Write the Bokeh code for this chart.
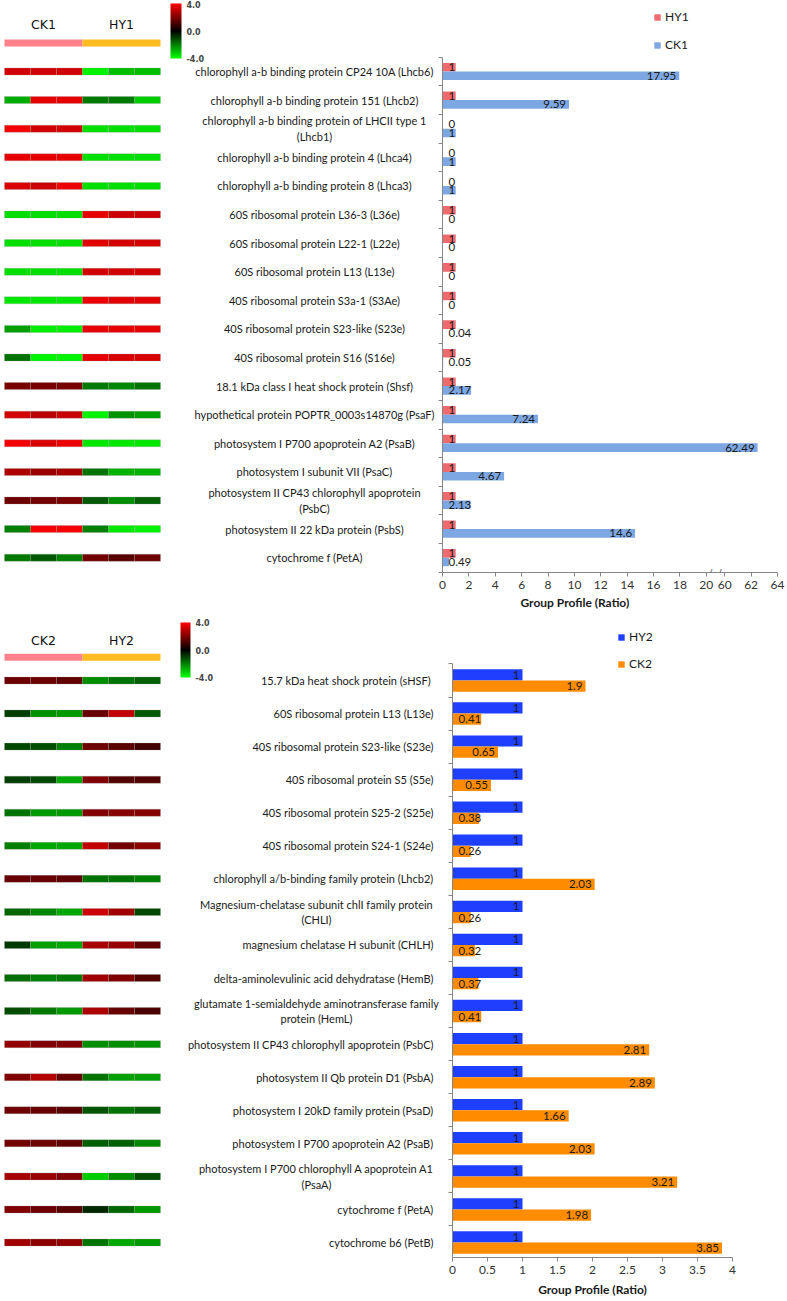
from bokeh.plotting import figure
from bokeh.models import (ColumnDataSource, Range1d, LinearColorMapper, ColorBar, FixedTicker,
                          PrintfTickFormatter, Legend, LegendItem, LinearAxis,
                          CustomJSTickFormatter, Title, Label)
from bokeh.layouts import row, column
from bokeh.core.properties import value
from bokeh.transform import transform, dodge
from bokeh.embed import file_html
from bokeh.resources import INLINE

# ---------------- data : panel 1 ----------------
groups1 = ["CK1", "HY1"]
labels1 = [
    "chlorophyll a-b binding protein CP24 10A (Lhcb6)",
    "chlorophyll a-b binding protein 151 (Lhcb2)",
    "chlorophyll a-b binding protein of LHCII type 1\n(Lhcb1)",
    "chlorophyll a-b binding protein 4 (Lhca4)",
    "chlorophyll a-b binding protein 8 (Lhca3)",
    "60S ribosomal protein L36-3 (L36e)",
    "60S ribosomal protein L22-1 (L22e)",
    "60S ribosomal protein L13 (L13e)",
    "40S ribosomal protein S3a-1 (S3Ae)",
    "40S ribosomal protein S23-like (S23e)",
    "40S ribosomal protein S16 (S16e)",
    "18.1 kDa class I heat shock protein (Shsf)",
    "hypothetical protein POPTR_0003s14870g (PsaF)",
    "photosystem I P700 apoprotein A2 (PsaB)",
    "photosystem I subunit VII (PsaC)",
    "photosystem II CP43 chlorophyll apoprotein\n(PsbC)",
    "photosystem II 22 kDa protein (PsbS)",
    "cytochrome f (PetA)",
]
hy1 = [1, 1, 0, 0, 0, 1, 1, 1, 1, 1, 1, 1, 1, 1, 1, 1, 1, 1]
ck1 = [17.95, 9.59, 1, 1, 1, 0, 0, 0, 0, 0.04, 0.05, 2.17, 7.24, 62.49, 4.67, 2.13, 14.6, 0.49]
heat1 = [
    [3.3, 3.3, 3.3, -3.8, -3.0, -3.0],
    [-2.7, 3.6, 3.6, -1.9, -1.9, -3.2],
    [3.8, 3.3, 3.3, -3.5, -3.5, -3.5],
    [3.6, 3.6, 3.6, -3.5, -3.5, -3.5],
    [3.4, 3.2, 3.7, -3.5, -3.5, -3.5],
    [-3.5, -3.5, -3.5, 3.6, 3.2, 3.2],
    [-3.5, -3.5, -3.5, 3.5, 3.3, 3.3],
    [-3.5, -3.5, -3.5, 3.3, 3.3, 3.3],
    [-3.6, -3.6, -3.6, 3.7, 3.5, 3.5],
    [-2.5, -3.7, -3.7, 3.6, 3.6, 3.6],
    [-1.8, -3.8, -3.8, 3.6, 3.4, 3.4],
    [1.9, 1.9, 1.9, -1.9, -2.1, -1.8],
    [3.3, 2.9, 3.1, -3.8, -2.3, -2.5],
    [3.8, 3.4, 3.7, -3.6, -3.6, -3.6],
    [2.7, 2.4, 2.6, -1.8, -2.8, -2.8],
    [1.7, 1.8, 1.9, -1.4, -2.2, -1.5],
    [-2.0, 3.9, 3.9, -2.0, -3.6, -3.8],
    [-1.9, -1.4, -2.0, 1.8, 1.4, 1.7],
]

# ---------------- data : panel 2 ----------------
groups2 = ["CK2", "HY2"]
labels2 = [
    "15.7 kDa  heat shock protein (sHSF)",
    "60S ribosomal protein L13 (L13e)",
    "40S ribosomal protein S23-like (S23e)",
    "40S ribosomal protein S5 (S5e)",
    "40S ribosomal protein S25-2 (S25e)",
    "40S ribosomal protein S24-1 (S24e)",
    "chlorophyll a/b-binding family protein (Lhcb2)",
    "Magnesium-chelatase subunit chlI family protein\n(CHLI)",
    "magnesium chelatase H subunit (CHLH)",
    "delta-aminolevulinic acid dehydratase (HemB)",
    "glutamate 1-semialdehyde aminotransferase family\nprotein (HemL)",
    "photosystem II CP43 chlorophyll apoprotein (PsbC)",
    "photosystem II Qb protein D1 (PsbA)",
    "photosystem I 20kD family protein (PsaD)",
    "photosystem I P700 apoprotein A2 (PsaB)",
    "photosystem I P700 chlorophyll A apoprotein A1\n(PsaA)",
    "cytochrome f (PetA)",
    "cytochrome b6 (PetB)",
]
hy2 = [1, 1, 1, 1, 1, 1, 1, 1, 1, 1, 1, 1, 1, 1, 1, 1, 1, 1]
ck2 = [1.9, 0.41, 0.65, 0.55, 0.38, 0.26, 2.03, 0.26, 0.32, 0.37, 0.41, 2.81, 2.89, 1.66, 2.03, 3.21, 1.98, 3.85]
heat2 = [
    [1.7, 1.7, 1.5, -2.2, -1.8, -1.5],
    [-1.0, -2.3, -2.4, 1.6, 3.0, -1.4],
    [-1.1, -1.2, -2.0, 1.7, 1.4, 1.0],
    [-1.0, -1.1, -2.6, 2.0, 1.3, 1.3],
    [-1.8, -2.4, -2.4, 2.0, 2.1, 2.1],
    [-2.0, -2.6, -2.6, 3.0, 1.8, 2.2],
    [1.6, 1.6, 1.5, -1.8, -1.8, -2.0],
    [-1.6, -2.1, -2.6, 3.2, 2.5, -1.1],
    [-0.9, -2.5, -2.6, 2.6, 2.4, 1.5],
    [-1.7, -2.0, -1.9, 2.5, 2.0, 1.3],
    [-1.2, -1.9, -2.4, 2.7, 1.6, 1.2],
    [2.3, 2.0, 2.0, -2.2, -2.2, -2.3],
    [2.0, 2.8, 1.6, -1.8, -2.5, -2.5],
    [1.7, 1.6, 1.4, -1.3, -1.8, -1.5],
    [1.8, 1.7, 1.5, -1.5, -1.5, -2.1],
    [2.6, 2.4, 2.0, -3.2, -2.2, -1.2],
    [2.0, 1.7, 1.4, -0.6, -1.6, -2.4],
    [2.5, 2.2, 2.3, -1.8, -2.6, -2.4],
]

# ---------------- styling ----------------
FONT = "Lato"
LABEL_SIZE = "11px"
GROUP_COLORS = ["#FF828C", "#FFBB22"]
AXIS_GREY = "#868686"
TXT = "#1a1a1a"

pal = []
for i in range(256):
    f = i / 255.0 * 2 - 1
    if f < 0:
        pal.append("#%02x%02x00" % (0, int(round(-f * 255))))
    else:
        pal.append("#%02x%02x00" % (int(round(f * 255)), 0))
mapper = LinearColorMapper(palette=pal, low=-4, high=4)

CELL = 26.0
X0 = 4.0
B = 42


def left_fig(labels, heat, groups, width, height, frame_h, yr, header_slot, gtext_slot,
             cb_x, cb_top, cb_w, cb_h, label_mode, cell_h):
    p = figure(width=width, height=height,
               x_range=Range1d(-X0 / CELL, (width - X0) / CELL), y_range=yr,
               output_backend="svg", toolbar_location=None,
               x_axis_location=None, y_axis_location=None,
               min_border_left=0, min_border_right=0, min_border_top=0,
               min_border_bottom=height - frame_h)
    p.outline_line_color = None
    p.grid.visible = False
    xs, ys, vs = [], [], []
    for r, rv in enumerate(heat):
        for c, v in enumerate(rv):
            xs.append(c + 0.5)
            ys.append(r)
            vs.append(v)
    src = ColumnDataSource(dict(x=xs, y=ys, v=vs))
    p.rect("x", "y", width=1, height=cell_h, height_units="screen", source=src,
           fill_color=transform("v", mapper), line_color="#9a9a9a", line_alpha=0.45,
           line_width=0.6)
    gx = [3 * i + 1.5 for i in range(len(groups))]
    hsrc = ColumnDataSource(dict(x=gx, y=[header_slot] * len(groups), c=GROUP_COLORS, g=groups,
                                 ty=[gtext_slot] * len(groups)))
    p.rect("x", "y", width=3, height=7, height_units="screen", source=hsrc,
           fill_color="c", line_color=None)
    p.text("x", "ty", text="g", source=hsrc, text_align="center", text_baseline="middle",
           text_font=value("DejaVu Sans"), text_font_size="12.5px", text_color="#111111")

    cb = ColorBar(color_mapper=mapper, width=cb_w, height=cb_h,
                  location=(cb_x, frame_h - cb_top - cb_h),
                  ticker=FixedTicker(ticks=[-4, 0, 4]),
                  formatter=PrintfTickFormatter(format="%.1f"),
                  major_label_text_font_size="8px", major_label_text_font_style="bold",
                  major_label_text_font="DejaVu Sans",
                  major_tick_line_color=None, bar_line_color=None, border_line_color=None,
                  background_fill_alpha=0, padding=0, margin=0, label_standoff=5)
    p.add_layout(cb)

    # category labels
    one_x, one_y, one_t, two_x, two_y, two_t = [], [], [], [], [], []
    for i, lab in enumerate(labels):
        if "\n" in lab:
            two_x.append(label_mode["multi_x"]); two_y.append(i); two_t.append(lab)
        else:
            one_x.append(label_mode["single_x"]); one_y.append(i); one_t.append(lab)
    p.text(one_x, one_y, text=one_t, text_align=label_mode["single_align"],
           text_baseline="middle", text_font=value(FONT), text_font_size=LABEL_SIZE,
           text_color=TXT)
    p.text(two_x, two_y, text=two_t, text_align="center",
           text_baseline="middle", text_font=value(FONT), text_font_size=LABEL_SIZE,
           text_color=TXT, text_line_height=1.2)
    return p


def value_label_cols(vals, tf, px_per_unit, char_w=6.0):
    xs, al, off, txt = [], [], [], []
    for v in vals:
        s = f"{v:g}"
        L = tf(v) * px_per_unit
        if L < len(s) * char_w + 8:
            xs.append(0); al.append("left"); off.append(6)
        else:
            xs.append(tf(v)); al.append("right"); off.append(-3)
        txt.append(s)
    return xs, al, off, txt


def style_axis(ax):
    ax.axis_line_color = AXIS_GREY
    ax.major_tick_line_color = AXIS_GREY
    ax.minor_tick_line_color = None
    ax.major_tick_out = 4
    ax.major_tick_in = 0
    ax.major_label_text_font = FONT
    ax.major_label_text_font_size = "12px"
    ax.major_label_text_color = "#333333"


def bar_fig(names, hy, ck, tf, x_end, width, height, frame_h, yr, mb_left, mb_right, sers,
            colors, bar_h, px_per_unit, ticks, overrides, legend_loc, title_offset,
            legend_spacing):
    p = figure(width=width, height=height, x_range=Range1d(0, x_end), y_range=yr,
               output_backend="svg", toolbar_location=None,
               x_axis_location=None, y_axis_location=None,
               min_border_left=mb_left, min_border_right=mb_right, min_border_top=0,
               min_border_bottom=height - frame_h)
    p.outline_line_color = None
    p.grid.visible = False
    slots = list(range(len(names)))
    hxs, hal, hoff, htx = value_label_cols(hy, tf, px_per_unit)
    cxs, cal, coff, ctx = value_label_cols(ck, tf, px_per_unit)
    src = ColumnDataSource(dict(slot=slots, hy=[tf(v) for v in hy], ck=[tf(v) for v in ck],
                                hx=hxs, hal=hal, hoff=hoff, htx=htx,
                                cx=cxs, cal=cal, coff=coff, ctx=ctx))
    d = bar_h / 2.0
    r1 = p.hbar(y=dodge("slot", -d, range=yr), left=0, right="hy", height=bar_h, source=src,
                fill_color=colors[0], line_color=None)
    r2 = p.hbar(y=dodge("slot", d, range=yr), left=0, right="ck", height=bar_h, source=src,
                fill_color=colors[1], line_color=None)
    for xc, ac, oc, tc, dd in (("hx", "hal", "hoff", "htx", -d), ("cx", "cal", "coff", "ctx", d)):
        p.text(x=xc, y=dodge("slot", dd, range=yr), text=tc, text_align=ac, x_offset=oc,
               source=src, text_baseline="middle", text_font=value(FONT),
               text_font_size="11.5px", text_color=TXT)

    xa = LinearAxis(ticker=FixedTicker(ticks=ticks),
                    formatter=CustomJSTickFormatter(code="return tick.toString();"),
                    major_label_overrides=overrides)
    style_axis(xa)
    xa.major_label_standoff = 4
    p.add_layout(xa, "below")
    if title_offset is None:
        xa.axis_label = "Group Profile (Ratio)"
        xa.axis_label_text_font = FONT
        xa.axis_label_text_font_size = "12px"
        xa.axis_label_text_font_style = "bold"
        xa.axis_label_text_color = TXT
        xa.axis_label_standoff = 5
    else:
        t = Title(text="Group Profile (Ratio)", align="left", offset=title_offset,
                  text_font=FONT, text_font_size="12px", text_font_style="bold",
                  text_color=TXT, standoff=2)
        p.add_layout(t, "below")

    n = len(names)
    ya = LinearAxis(ticker=FixedTicker(ticks=[k - 0.5 for k in range(n + 1)]),
                    formatter=CustomJSTickFormatter(code="return '';"),
                    bounds=(-0.5, n - 0.5))
    style_axis(ya)
    ya.major_label_standoff = 0
    p.add_layout(ya, "left")

    leg = Legend(items=[LegendItem(label=sers[0], renderers=[r1]),
                        LegendItem(label=sers[1], renderers=[r2])],
                 location=legend_loc, glyph_width=8, glyph_height=8, label_height=14,
                 label_standoff=4, spacing=legend_spacing, padding=0, margin=0,
                 border_line_color=None, background_fill_alpha=0,
                 label_text_font=FONT, label_text_font_size="12px", label_text_color=TXT)
    p.add_layout(leg)
    return p


# ---------------- panel 1 ----------------
S1 = 28.6
F1 = 572
H1 = F1 + B
top1 = -71 / S1
yr1 = Range1d(start=top1 + F1 / S1, end=top1)

GAP = 1.4


def brk(v):
    return v if v <= 20 else v - 60 + 20 + GAP


x_end1 = brk(64)
ticks1 = [0, 2, 4, 6, 8, 10, 12, 14, 16, 18, 20, brk(60), brk(62), brk(64)]
over1 = {brk(60): "60", brk(62): "62", brk(64): "64"}
W1L = 437
W1B = 786 - W1L
MBL1, MBR1 = 5, 9
px1 = (W1B - MBL1 - MBR1) / x_end1

left1 = left_fig(labels1, heat1, groups1, W1L, H1, F1, yr1, -1, -1.64, 170, 3, 11, 55,
                 dict(single_x=(314 - X0) / CELL, single_align="center",
                      multi_x=(314 - X0) / CELL), 7)
bar1 = bar_fig(labels1, hy1, ck1, brk, x_end1, W1B, H1, F1, yr1, MBL1, MBR1, ["HY1", "CK1"],
               ["#EE6A6E", "#7DA7E3"], 0.3, px1, ticks1, over1, (211, F1 - 52), 78, 13)
for bx in (20.35, 21.05):
    bar1.add_layout(Label(x=bx, y=yr1.start, text="/", text_font_size="11px",
                          text_color="#666666", text_align="center", text_baseline="middle"))

# ---------------- panel 2 ----------------
S2 = 33.06
P2 = H1
F2 = 643
H2 = F2 + B
top2 = -(680 - P2) / S2
yr2 = Range1d(start=top2 + F2 / S2, end=top2)
W2L = 447
W2B = 786 - W2L
MBL2 = 5
px2 = 70.0
x_end2 = 4.0
MBR2 = W2B - MBL2 - int(px2 * x_end2)
ticks2 = [0, 0.5, 1, 1.5, 2, 2.5, 3, 3.5, 4]

left2 = left_fig(labels2, heat2, groups2, W2L, H2, F2, yr2, -0.7, -1.21, 180, 8, 10, 55,
                 dict(single_x=(433 - X0) / CELL, single_align="right",
                      multi_x=(316 - X0) / CELL), 7)
bar2 = bar_fig(labels2, hy2, ck2, lambda v: v, x_end2, W2B, H2, F2, yr2, MBL2, MBR2,
               ["HY2", "CK2"], ["#1F3FFF", "#FF8C00"], 0.34, px2, ticks2, {},
               (165, F2 - 57), None, 12)

layout = column(row(left1, bar1), row(left2, bar2))
open("out.html", "w").write(file_html(layout, INLINE))
